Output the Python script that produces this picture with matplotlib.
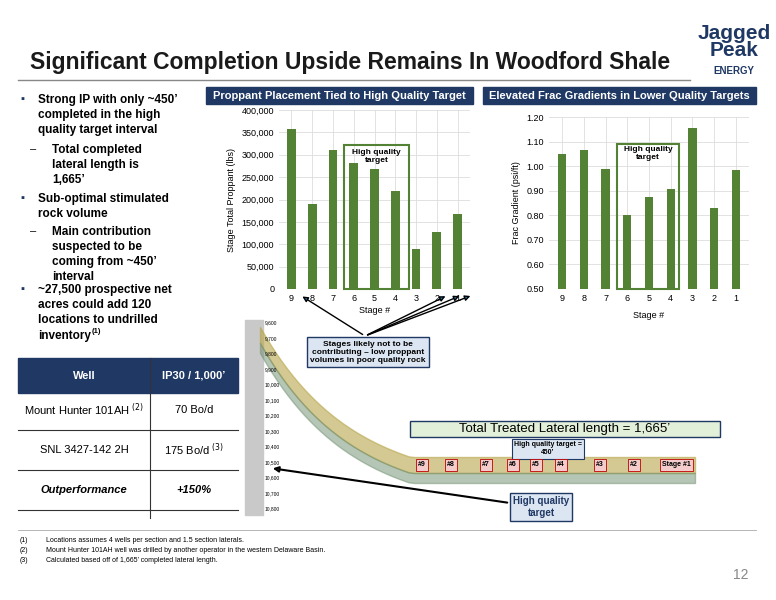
import matplotlib
matplotlib.use('Agg')
import matplotlib.pyplot as plt
from matplotlib.patches import Rectangle, FancyArrowPatch
import numpy as np

plt.rcParams['font.family'] = ['Liberation Sans', 'DejaVu Sans']

stages = ['9', '8', '7', '6', '5', '4', '3', '2', '1']
proppant = [357000, 190000, 310000, 282000, 269000, 218000, 90000, 128000, 167000]
frac_grad = [1.05, 1.065, 0.99, 0.80, 0.875, 0.905, 1.155, 0.83, 0.985]
stage_boxes = ['#9', '#8', '#7', '#6', '#5', '#4', '#3', '#2', 'Stage #1']

W, H = 776, 600
fig = plt.figure(figsize=(W / 100, H / 100), dpi=100)
GREEN = '#548235'
NAVY = '#1f3864'


def fx(px):
    return px / W


def fy(py):
    return 1 - py / H


def box_axes(x0, y0, x1, y1):
    return fig.add_axes([fx(x0), fy(y1), fx(x1 - x0), (y1 - y0) / H])


# title
fig.text(fx(30), fy(62), 'Significant Completion Upside Remains In Woodford Shale',
         fontsize=16.5, fontweight='bold', va='center', color='#1a1a1a')
fig.add_artist(plt.Line2D([fx(18), fx(690)], [fy(80), fy(80)], color='#888888', lw=1))
fig.text(fx(734), fy(42), 'Jagged\nPeak', fontsize=15, fontweight='bold', color=NAVY,
         ha='center', va='center', linespacing=0.85)
fig.text(fx(734), fy(71), 'ENERGY', fontsize=7, fontweight='bold', color=NAVY, ha='center', va='center')

# section headers
for x0, x1, txt in [(206, 473, 'Proppant Placement Tied to High Quality Target'),
                    (483, 756, 'Elevated Frac Gradients in Lower Quality Targets')]:
    fig.patches.append(Rectangle((fx(x0), fy(104)), fx(x1 - x0), 17 / H,
                                 transform=fig.transFigure, color=NAVY))
    fig.text(fx((x0 + x1) / 2), fy(96), txt, color='white', fontsize=8,
             fontweight='bold', ha='center', va='center')

x = range(len(stages))

# left chart
ax1 = box_axes(279, 110, 470, 289)
ax1.bar(x, proppant, width=0.42, color=GREEN)
ax1.set_ylim(0, 400000)
ax1.set_yticks(range(0, 400001, 50000))
ax1.set_yticklabels([f'{v:,}' for v in range(0, 400001, 50000)])
ax1.set_xticks(list(x))
ax1.set_xticklabels(stages)
ax1.set_xlim(-0.6, 8.6)
ax1.set_xlabel('Stage #', fontsize=6.5, labelpad=2)
ax1.set_ylabel('Stage Total Proppant (lbs)', fontsize=6.5)
ax1.add_patch(Rectangle((2.55, 0), 3.1, 322000, fill=False, ec=GREEN, lw=1.5, clip_on=False))
ax1.text(4.1, 295000, 'High quality\ntarget', ha='center', va='center', fontsize=6, fontweight='bold')

# right chart
ax2 = box_axes(549, 117, 749, 289)
ax2.bar(x, frac_grad, width=0.38, color=GREEN)
ax2.set_ylim(0.5, 1.2)
ax2.set_yticks([0.5 + 0.1 * i for i in range(8)])
ax2.set_yticklabels([f'{0.5 + 0.1 * i:.2f}' for i in range(8)])
ax2.set_xticks(list(x))
ax2.set_xticklabels(stages)
ax2.set_xlim(-0.6, 8.6)
ax2.set_xlabel('Stage #', fontsize=6.5, labelpad=6)
ax2.set_ylabel('Frac Gradient (psi/ft)', fontsize=6.5)
ax2.add_patch(Rectangle((2.55, 0.5), 2.85, 0.59, fill=False, ec=GREEN, lw=1.5, clip_on=False))
ax2.text(3.95, 1.05, 'High quality\ntarget', ha='center', va='center', fontsize=6, fontweight='bold')

for ax in (ax1, ax2):
    ax.grid(color='#dddddd', lw=0.6)
    ax.set_axisbelow(True)
    ax.tick_params(labelsize=6.5, length=0)
    for s in ax.spines.values():
        s.set_visible(False)

# bullets
bul = [(94, 'Strong IP with only ~450’\ncompleted in the high\nquality target interval', 0),
       (144, 'Total completed\nlateral length is\n1,665’', 1),
       (193, 'Sub-optimal stimulated\nrock volume', 0),
       (226, 'Main contribution\nsuspected to be\ncoming from ~450’\ninterval', 1),
       (284, '~27,500 prospective net\nacres could add 120\nlocations to undrilled', 0)]
for y, t, lvl in bul:
    xx = 38 if lvl == 0 else 52
    fig.text(fx(xx - 18 - (4 if lvl else 0)), fy(y), '▪' if lvl == 0 else '–', fontsize=8,
             va='top', color=NAVY if lvl == 0 else 'black')
    fig.text(fx(xx), fy(y), t, fontsize=8.5, fontweight='bold', va='top', linespacing=1.35)
fig.text(fx(38), fy(330), 'inventory', fontsize=8.5, fontweight='bold', va='top')
fig.text(fx(92), fy(335), '(1)', fontsize=5.5, fontweight='bold', va='bottom')

# table
rows = [('Mount Hunter 101AH $^{(2)}$', '70 Bo/d'),
        ('SNL 3427-142 2H', '175 Bo/d $^{(3)}$'),
        ('Outperformance', '+150%')]
fig.patches.append(Rectangle((fx(18), fy(393)), fx(220), 35 / H, transform=fig.transFigure, color=NAVY))
fig.text(fx(84), fy(376), 'Well', color='white', fontsize=8, fontweight='bold', ha='center', va='center')
fig.text(fx(194), fy(376), 'IP30 / 1,000’', color='white', fontsize=8, fontweight='bold', ha='center', va='center')
for i, (a, b) in enumerate(rows):
    yc = 410 + i * 40
    style = 'italic' if i == 2 else 'normal'
    wt = 'bold' if i == 2 else 'normal'
    fig.text(fx(84), fy(yc), a, fontsize=8, ha='center', va='center', style=style, fontweight=wt)
    fig.text(fx(194), fy(yc), b, fontsize=8, ha='center', va='center', style=style, fontweight=wt)
    fig.add_artist(plt.Line2D([fx(18), fx(238)], [fy(yc + 20), fy(yc + 20)], color='#333333', lw=0.8))
fig.add_artist(plt.Line2D([fx(150), fx(150)], [fy(358), fy(518)], color='#333333', lw=0.8))

# well-log area (simplified)
lg = box_axes(240, 315, 700, 520)
lg.set_xlim(0, 460)
lg.set_ylim(205, 0)
lg.axis('off')
lg.add_patch(Rectangle((5, 5), 18, 195, color='#c9c9c9'))
xs = np.linspace(20, 455, 80)
ys = 20 + 160 * (1 - np.exp(-(xs - 20) / 90))
ys = np.minimum(ys, 150 + 0 * xs)
lg.fill_between(xs, ys - 8, ys + 8, color='#b8a64a', alpha=0.6)
lg.fill_between(xs, ys + 8, ys + 18, color='#6f8f6f', alpha=0.5)
for i, lab in enumerate(['9,600', '9,700', '9,800', '9,900', '10,000', '10,100', '10,200', '10,300',
                         '10,400', '10,500', '10,600', '10,700', '10,800']):
    lg.text(25, 8 + i * 15.5, lab, fontsize=3.5, va='center')

# callouts
fig.text(fx(368), fy(352), 'Stages likely not to be\ncontributing – low proppant\nvolumes in poor quality rock',
         fontsize=6, fontweight='bold', ha='center', va='center',
         bbox=dict(boxstyle='square,pad=0.4', fc='#dce6f2', ec=NAVY, lw=1))
for tx in [(300, 295), (448, 295), (462, 295), (473, 295)]:
    fig.add_artist(FancyArrowPatch((fx(365), fy(336)), (fx(tx[0]), fy(tx[1])),
                                   transform=fig.transFigure, arrowstyle='-|>', mutation_scale=8, lw=1))

fig.patches.append(Rectangle((fx(410), fy(437)), fx(310), 16 / H, transform=fig.transFigure,
                             fc='#e2f0d9', ec=NAVY, lw=1))
fig.text(fx(565), fy(429), 'Total Treated Lateral length = 1,665’', fontsize=9.5, ha='center', va='center')
fig.text(fx(548), fy(449), 'High quality target =\n450’', fontsize=5, fontweight='bold', ha='center',
         va='center', bbox=dict(boxstyle='square,pad=0.3', fc='#dce6f2', ec=NAVY, lw=0.8))
bx = [418, 447, 482, 509, 532, 557, 596, 630, 662]
for xb, lab in zip(bx, stage_boxes):
    fig.text(fx(xb), fy(465), lab, fontsize=5, fontweight='bold', ha='left', va='center',
             bbox=dict(boxstyle='square,pad=0.3', fc='#f4cccc', ec='#c00000', lw=0.6))
fig.text(fx(541), fy(507), 'High quality\ntarget', fontsize=7, fontweight='bold', ha='center',
         va='center', color=NAVY, bbox=dict(boxstyle='square,pad=0.3', fc='#dce6f2', ec=NAVY, lw=1))
fig.add_artist(FancyArrowPatch((fx(510), fy(503)), (fx(270), fy(468)),
                               transform=fig.transFigure, arrowstyle='-|>', mutation_scale=8, lw=1.5))

# footnotes
fig.add_artist(plt.Line2D([fx(18), fx(756)], [fy(530), fy(530)], color='#aaaaaa', lw=0.6))
notes = ['(1)\tLocations assumes 4 wells per section and 1.5 section laterals.',
         '(2)\tMount Hunter 101AH well was drilled by another operator in the western Delaware Basin.',
         '(3)\tCalculated based off of 1,665’ completed lateral length.']
for i, n in enumerate(notes):
    a, b = n.split('\t')
    fig.text(fx(20), fy(541 + i * 10), a, fontsize=5, va='center')
    fig.text(fx(46), fy(541 + i * 10), b, fontsize=5, va='center')
fig.text(fx(748), fy(575), '12', fontsize=10, color='#888888', ha='right', va='center')

fig.savefig('out.png', dpi=100)
